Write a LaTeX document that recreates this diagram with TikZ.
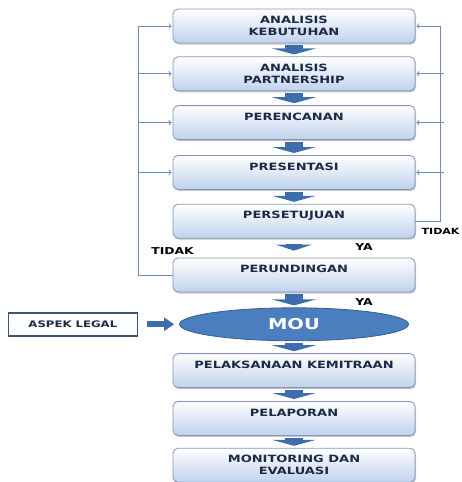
\documentclass[tikz,border=0pt]{standalone}
\usepackage{fontspec}
\newfontfamily\boxfont[FakeStretch=1.3]{DejaVu Sans}
\usetikzlibrary{positioning,shapes.geometric,shadows,arrows.meta}

\definecolor{textnavy}{HTML}{1E2A45}
\definecolor{boxedge}{HTML}{8497B8}
\definecolor{boxblue}{HTML}{BFD2EC}
\definecolor{arrblue}{HTML}{3E6DAE}
\definecolor{lineblue}{HTML}{6F8DB4}
\definecolor{moublue}{HTML}{4A7EBF}
\definecolor{legaledge}{HTML}{3C5476}

\begin{document}
\begin{tikzpicture}[
            x = 1pt, y = 1pt,
            > = to, % open arrow head on the loops
            node distance = 13pt, % gap between stages
            stage/.style = {rectangle, rounded corners=5pt, draw=boxedge, thick,
                top color=white, bottom color=boxblue,
                minimum width=242pt, minimum height=34pt, align=center,
                text=textnavy, font=\boxfont\bfseries\fontsize{10}{12}\selectfont,
                drop shadow={shadow xshift=1pt, shadow yshift=-1.5pt, opacity=0.45}},
            legal/.style = {rectangle, draw=legaledge, line width=1.5pt, fill=white,
                minimum width=129pt, minimum height=23pt, text=textnavy,
                font=\boxfont\bfseries\fontsize{9}{11}\selectfont},
            mou/.style = {ellipse, fill=moublue, draw=moublue!75!black, thick,
                minimum width=229pt, minimum height=33pt, text=white,
                font=\boxfont\bfseries\fontsize{15}{18}\selectfont},
            lbl/.style = {inner sep=0pt, text=black,
                font=\boxfont\bfseries\fontsize{9.5}{11}\selectfont},
            blockarr/.style = {draw=arrblue, line width=18pt,
                -{Triangle[width=44pt,length=6pt]}, shorten <=2pt, shorten >=2pt},
            sidearr/.style = {draw=arrblue, line width=6pt,
                -{Triangle[width=13pt,length=10pt]}, shorten <=9pt, shorten >=5pt},
            fb/.style = {draw=lineblue, line width=1pt, shorten >=1pt}
        ]

	\useasboundingbox (0,0) rectangle (462,-482);

	% stages
	\node[stage] (b1) at (294,-26) {ANALISIS\\KEBUTUHAN};
	\node[stage] (b2) [below=of b1] {ANALISIS\\PARTNERSHIP};
	\node[stage] (b3) [below=14pt of b2] {PERENCANAN\\\mbox{}};
	\node[stage] (b4) [below=15pt of b3] {PRESENTASI\\\mbox{}};
	\node[stage] (b5) [below=14pt of b4] {PERSETUJUAN\\\mbox{}};
	\node[stage] (b6) [below=19pt of b5] {PERUNDINGAN\\\mbox{}};
	\node[mou] (mou) [below=15pt of b6] {MOU};
	\node[stage] (b7) [below=12pt of mou] {PELAKSANAAN KEMITRAAN\\\mbox{}};
	\node[stage] (b8) [below=of b7] {PELAPORAN\\\mbox{}};
	\node[stage] (b9) [below=12pt of b8] {MONITORING DAN\\EVALUASI};
	\node[legal] (asp) [left=41pt of mou] {ASPEK LEGAL};

	% yes / no
	\node[lbl, font=\boxfont\bfseries\fontsize{8.5}{10}\selectfont] (tdk1) [anchor=west]
		at ([xshift=6pt,yshift=7pt]b5.south east) {TIDAK};
	\node[lbl] (tdk2) at ([yshift=7pt]b6.north west) {TIDAK};
	\node[lbl] (ya1) at ([xshift=70pt,yshift=11pt]b6.north) {YA};
	\node[lbl] (ya2) at ([xshift=70pt,yshift=-10pt]b6.south) {YA};

	% main flow
	\foreach \a/\b in {b1/b2,b2/b3,b3/b4,b4/b5,b6/mou,mou/b7,b7/b8,b8/b9}
		\draw[blockarr] (\a) -- (\b);
	\draw[blockarr, line width=16pt, -{Triangle[width=36pt,length=6pt]},
		shorten <=5pt, shorten >=7pt] (b5) -- (b6);
	\draw[sidearr] (asp) -- (mou);

	% loops back
	\coordinate (lft) at ([xshift=-34pt]b6.west);
	\draw[fb,->] (b6.west) -- (lft) |- (b1.west);
	\foreach \n in {b2,b3,b4}
		\draw[fb,->] (lft |- \n.west) -- (\n.west);

	\coordinate (rgt) at ([xshift=25pt]b5.east);
	\coordinate (rgt2) at ([xshift=4pt]rgt);
	\draw[fb,->] (b5.east) -- (rgt) |- (b1.east);
	\foreach \n in {b2,b3,b4}
		\draw[fb,->] (rgt2 |- \n.east) -- (\n.east);

\end{tikzpicture}
\end{document}
